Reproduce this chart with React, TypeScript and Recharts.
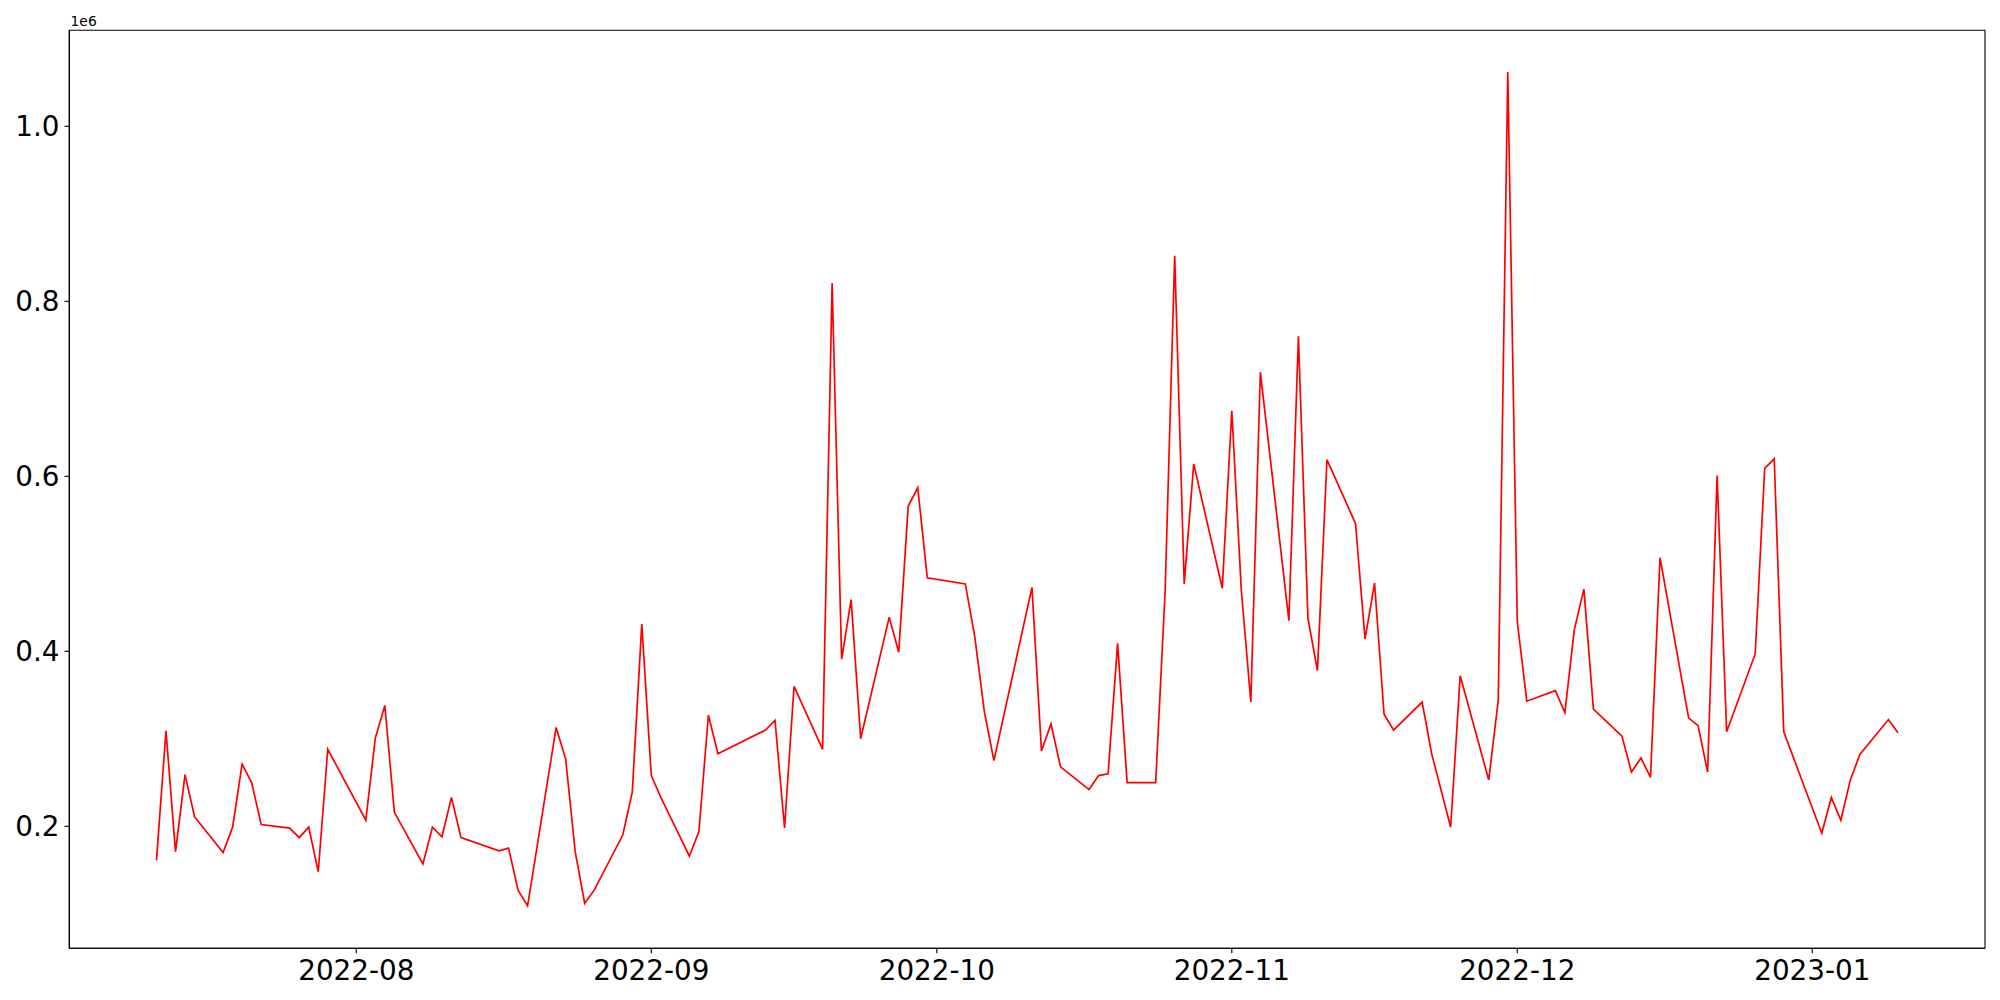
import React from "react";
import { LineChart, Line, XAxis, YAxis, ReferenceArea } from "recharts";

const dates: string[] = [
  "2022-07-11","2022-07-12","2022-07-13","2022-07-14","2022-07-15",
  "2022-07-18","2022-07-19","2022-07-20","2022-07-21","2022-07-22",
  "2022-07-25","2022-07-26","2022-07-27","2022-07-28","2022-07-29",
  "2022-08-02","2022-08-03","2022-08-04","2022-08-05",
  "2022-08-08","2022-08-09","2022-08-10","2022-08-11","2022-08-12",
  "2022-08-16","2022-08-17","2022-08-18","2022-08-19",
  "2022-08-22","2022-08-23","2022-08-24","2022-08-25","2022-08-26",
  "2022-08-29","2022-08-30","2022-08-31","2022-09-01","2022-09-02",
  "2022-09-05","2022-09-06","2022-09-07","2022-09-08",
  "2022-09-13","2022-09-14","2022-09-15","2022-09-16",
  "2022-09-19","2022-09-20","2022-09-21","2022-09-22","2022-09-23",
  "2022-09-26","2022-09-27","2022-09-28","2022-09-29","2022-09-30",
  "2022-10-04","2022-10-05","2022-10-06","2022-10-07",
  "2022-10-11","2022-10-12","2022-10-13","2022-10-14",
  "2022-10-17","2022-10-18","2022-10-19","2022-10-20","2022-10-21",
  "2022-10-24","2022-10-25","2022-10-26","2022-10-27","2022-10-28",
  "2022-10-31","2022-11-01","2022-11-02","2022-11-03","2022-11-04",
  "2022-11-07","2022-11-08","2022-11-09","2022-11-10","2022-11-11",
  "2022-11-14","2022-11-15","2022-11-16","2022-11-17","2022-11-18",
  "2022-11-21","2022-11-22","2022-11-24","2022-11-25",
  "2022-11-28","2022-11-29","2022-11-30","2022-12-01","2022-12-02",
  "2022-12-05","2022-12-06","2022-12-07","2022-12-08","2022-12-09",
  "2022-12-12","2022-12-13","2022-12-14","2022-12-15","2022-12-16",
  "2022-12-19","2022-12-20","2022-12-21","2022-12-22","2022-12-23",
  "2022-12-26","2022-12-27","2022-12-28","2022-12-29",
  "2023-01-02","2023-01-03","2023-01-04","2023-01-05","2023-01-06",
  "2023-01-09","2023-01-10",
];

const values: number[] = [
  161000, 309000, 171000, 259000, 211000,
  170000, 199000, 271000, 250000, 202000,
  198000, 187000, 199000, 148000, 288000,
  207000, 301000, 338000, 216000,
  157000, 199000, 188000, 233000, 187000,
  172000, 175000, 127000, 109000,
  313000, 277000, 171000, 112000, 127000,
  190000, 239000, 431000, 258000, 233000,
  166000, 194000, 327000, 283000,
  310000, 321000, 198000, 360000,
  288000, 821000, 391000, 459000, 300000,
  439000, 399000, 566000, 587000, 484000,
  477000, 416000, 331000, 275000,
  473000, 286000, 317000, 268000,
  242000, 258000, 260000, 409000, 250000,
  250000, 470000, 852000, 477000, 614000,
  472000, 675000, 470000, 342000, 719000,
  435000, 760000, 438000, 378000, 619000,
  546000, 414000, 478000, 328000, 310000,
  342000, 283000, 199000, 372000,
  253000, 344000, 1062000, 434000, 343000,
  355000, 330000, 425000, 471000, 334000,
  303000, 262000, 278000, 256000, 507000,
  324000, 315000, 262000, 601000, 308000,
  397000, 609000, 620000, 308000,
  192000, 233000, 207000, 253000, 282000,
  322000, 307000,
];

const xTickLabels: string[] = ["2022-08", "2022-09", "2022-10", "2022-11", "2022-12", "2023-01"];
const yTicks: number[] = [200000, 400000, 600000, 800000, 1000000];

const toTs = (s: string) => {
  const [y, m, d] = s.split("-").map(Number);
  return Date.UTC(y, m - 1, d);
};

const data = dates.map((d, i) => ({ t: toTs(d), v: values[i] }));
const xTicks = xTickLabels.map((l) => toTs(l + "-01"));

const X_MIN = Date.UTC(2022, 6, 1, 20, 10);
const X_MAX = Date.UTC(2023, 0, 19, 3, 36);
const Y_MIN = 60570;
const Y_MAX = 1109710;

const fmtX = (t: number) => {
  const d = new Date(t);
  return `${d.getUTCFullYear()}-${String(d.getUTCMonth() + 1).padStart(2, "0")}`;
};
const fmtY = (v: number) => (v / 1e6).toFixed(1);

const FONT = "DejaVu Sans";

export default function App() {
  return (
    <div style={{ position: "absolute", left: 0, top: 0, width: 2000, height: 1000, background: "#fff" }}>
      <LineChart
        width={2000}
        height={1000}
        data={data}
        margin={{ top: 30.3, right: 15, bottom: 0, left: 0 }}
      >
        <XAxis
          dataKey="t"
          type="number"
          domain={[X_MIN, X_MAX]}
          ticks={xTicks}
          tickFormatter={fmtX}
          interval={0}
          height={51.7}
          tickSize={4.9}
          tickMargin={7}
          allowDataOverflow
          axisLine={{ stroke: "#000", strokeWidth: 1.1 }}
          tickLine={{ stroke: "#000", strokeWidth: 1.1 }}
          tick={{ fill: "#000", fontSize: 27.8, fontFamily: FONT }}
        />
        <YAxis
          type="number"
          domain={[Y_MIN, Y_MAX]}
          ticks={yTicks}
          tickFormatter={fmtY}
          interval={0}
          width={69.3}
          tickSize={4.9}
          tickMargin={4.9}
          allowDataOverflow
          axisLine={{ stroke: "#000", strokeWidth: 1.1 }}
          tickLine={{ stroke: "#000", strokeWidth: 1.1 }}
          tick={{ fill: "#000", fontSize: 27.8, fontFamily: FONT }}
        />
        <ReferenceArea
          x1={X_MIN}
          x2={X_MAX}
          y1={Y_MIN}
          y2={Y_MAX}
          fill="none"
          fillOpacity={0}
          stroke="#000"
          strokeWidth={1.1}
          ifOverflow="visible"
        />
        <Line
          type="linear"
          dataKey="v"
          stroke="#ff0000"
          strokeWidth={1.7}
          dot={false}
          isAnimationActive={false}
        />
      </LineChart>
      <svg
        width={200}
        height={40}
        style={{ position: "absolute", left: 0, top: 0, pointerEvents: "none" }}
      >
        <text x={70.5} y={25.7} fontSize={13.9} fontFamily={FONT} fill="#000">
          1e6
        </text>
      </svg>
    </div>
  );
}
